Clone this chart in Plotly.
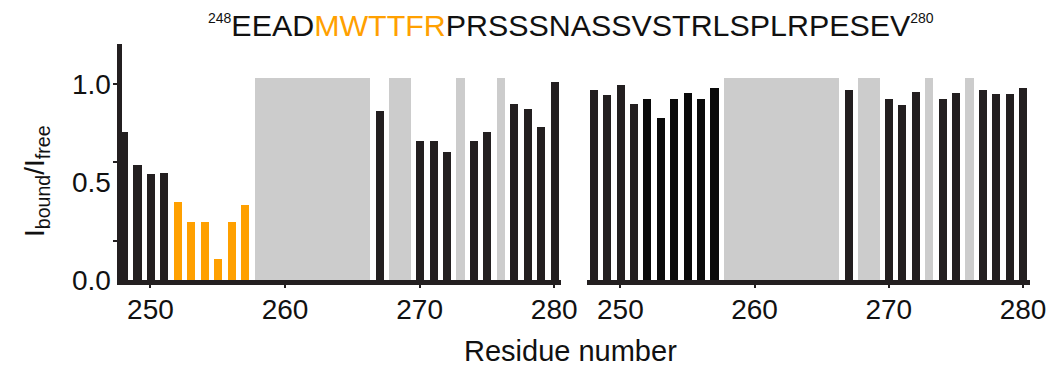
import plotly.graph_objects as go

# ---------------- data ----------------
residues = list(range(248, 281))
tick_vals_x = [250, 260, 270, 280]
tick_vals_y = [0.0, 0.5, 1.0]
tick_text_y = ["0.0", "0.5", "1.0"]
minor_tick_y = [0.2, 0.6, 1.0]

# left panel (I_bound / I_free), None = not observed
left_vals = [0.757, 0.585, 0.539, 0.547, 0.400, 0.297, 0.297, 0.107, 0.297, 0.383,
             None, None, None, None, None, None, None, None, None,
             0.864, None, None, 0.711, 0.711, 0.655, None, 0.711, 0.757, None,
             0.898, 0.871, 0.782, 1.012]
# right panel
right_vals = [0.968, 0.942, 0.993, 0.898, 0.922, 0.827, 0.922, 0.954, 0.922, 0.980,
              None, None, None, None, None, None, None, None, None,
              0.968, None, None, 0.922, 0.891, 0.961, None, 0.922, 0.954, None,
              0.968, 0.949, 0.949, 0.980]

highlight = [252, 253, 254, 255, 256, 257]
missing = [258, 259, 260, 261, 262, 263, 264, 265, 266, 268, 269, 273, 276]
missing_height = 1.032

sequence_pre = "EEAD"
sequence_hl = "MWTTFR"
sequence_post = "PRSSSNASSVSTRLSPLRPESEV"

# ---------------- styles ----------------
BLACK = "#231F20"
DARK = "#0A0A0A"
ORANGE = "#FFA000"
GRAY = "#CCCCCC"
TXT = "#111111"
FONT = "Liberation Sans, Arial, sans-serif"
BAR_W = 0.6


def runs(vals):
    out = []
    for v in sorted(vals):
        if out and v == out[-1][1] + 1:
            out[-1][1] = v
        else:
            out.append([v, v])
    return out


gray_runs = runs(missing)
gray_x = [(a + b) / 2 for a, b in gray_runs]
gray_w = [(b - a) + BAR_W for a, b in gray_runs]

fig = go.Figure()

for xa, ya, vals, hl_color in [("x", "y", left_vals, ORANGE), ("x2", "y2", right_vals, DARK)]:
    fig.add_trace(go.Bar(
        x=gray_x, y=[missing_height] * len(gray_x), width=gray_w,
        marker=dict(color=GRAY, line=dict(width=0)),
        xaxis=xa, yaxis=ya, showlegend=False, hoverinfo="skip"))
    xs = [r for r, v in zip(residues, vals) if v is not None]
    ys = [v for v in vals if v is not None]
    cols = [hl_color if r in highlight else BLACK for r in xs]
    fig.add_trace(go.Bar(
        x=xs, y=ys, width=BAR_W,
        marker=dict(color=cols, line=dict(width=0)),
        xaxis=xa, yaxis=ya, showlegend=False))

W, H = 1051, 368
TOP, BOT = 44, 280
PH = BOT - TOP


def py(px):
    return (BOT - px) / PH


xcommon = dict(
    tickvals=tick_vals_x, ticks="outside", ticklen=3, tickwidth=2, tickcolor=BLACK,
    showline=True, linewidth=5, linecolor=BLACK, showgrid=False, zeroline=False,
    automargin=False, ticklabelstandoff=-3,
    tickfont=dict(family=FONT, size=28, color=TXT),
)

fig.update_layout(
    width=W, height=H, autosize=False,
    margin=dict(l=0, r=0, t=TOP, b=H - BOT, pad=0),
    paper_bgcolor="white", plot_bgcolor="white",
    bargap=0, barmode="overlay",
    xaxis=dict(domain=[121.5 / W, 560.9 / W], range=[247.85, 280.5], anchor="y", **xcommon),
    xaxis2=dict(domain=[586.8 / W, 1029.7 / W], range=[247.5, 280.5], anchor="y2", **xcommon),
    yaxis=dict(domain=[0, 1], range=[0, 1.204], anchor="x", automargin=False,
               tickvals=tick_vals_y, ticktext=tick_text_y, ticks="",
               showline=True, linewidth=5, linecolor=BLACK, showgrid=False, zeroline=False,
               tickfont=dict(family=FONT, size=28, color=TXT),
               minor=dict(tickvals=minor_tick_y, ticks="outside", ticklen=4,
                          tickwidth=2, tickcolor=BLACK, showgrid=False)),
    yaxis2=dict(domain=[0, 1], range=[0, 1.204], anchor="x2", automargin=False,
                showline=False, showticklabels=False, ticks="", showgrid=False, zeroline=False),
)

title_txt = ("<sup><span style='font-size:14px'>248</span></sup>" + sequence_pre +
             "<span style='color:%s'>%s</span>" % (ORANGE, sequence_hl) +
             sequence_post + "<sup><span style='font-size:14px'>280</span></sup>")

fig.add_annotation(text=title_txt, xref="paper", yref="paper",
                   x=570.5 / W, y=py(25), xanchor="center", yanchor="middle",
                   showarrow=False, font=dict(family=FONT, size=30.4, color=TXT))
fig.add_annotation(text="Residue number", xref="paper", yref="paper",
                   x=570 / W, y=py(351), xanchor="center", yanchor="middle",
                   showarrow=False, font=dict(family=FONT, size=29, color=TXT))
fig.add_annotation(text="I<sub>bound</sub>/I<sub>free</sub>", xref="paper", yref="paper",
                   x=36 / W, y=py(181), xanchor="center", yanchor="middle", textangle=-90,
                   showarrow=False, font=dict(family=FONT, size=28, color=TXT))

fig.write_html("out.html")
